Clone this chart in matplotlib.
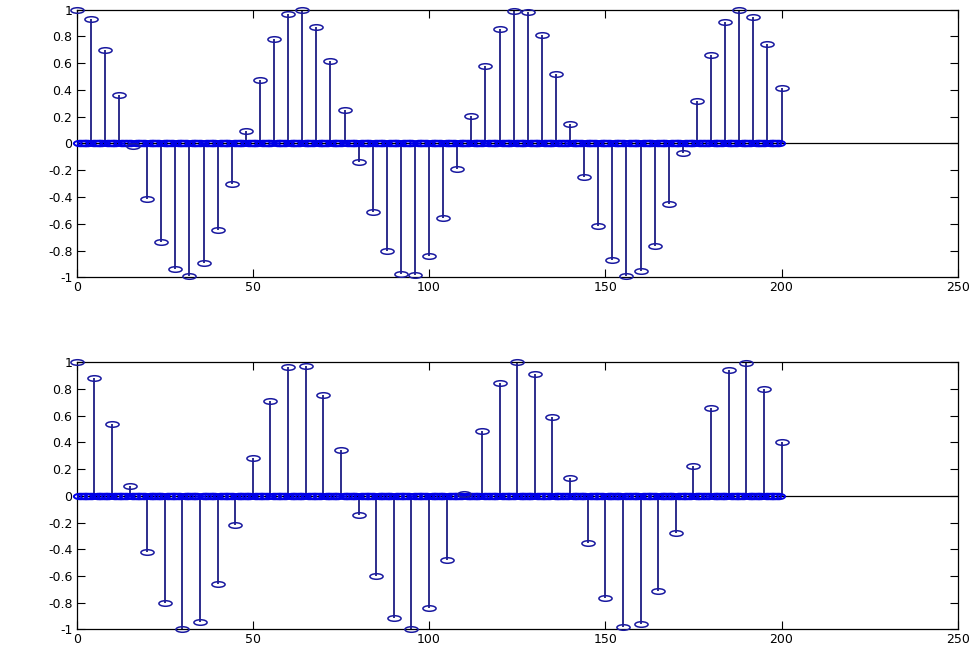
import numpy as np
import matplotlib
matplotlib.use("Agg")
import matplotlib.pyplot as plt
from matplotlib.path import Path
from matplotlib.transforms import Affine2D

plt.rcParams['axes.unicode_minus'] = False
plt.rcParams['font.family'] = ['DejaVu Sans']

# sample positions (every 4th / every 5th of 0..200) and their values
n_total = 201
top_step = 4
top_vals = [1.0, 0.93, 0.70, 0.364, -0.017, -0.416, -0.736, -0.94, -0.99, -0.895,
            -0.648, -0.30, 0.09, 0.476, 0.78, 0.97, 0.998, 0.873, 0.616, 0.252,
            -0.14, -0.514, -0.805, -0.973, -0.98, -0.838, -0.556, -0.19, 0.207, 0.579,
            0.853, 0.993, 0.98, 0.81, 0.519, 0.142, -0.254, -0.613, -0.87, -0.99,
            -0.953, -0.768, -0.454, -0.072, 0.319, 0.663, 0.91, 1.0, 0.945, 0.74,
            0.414]
bot_step = 5
bot_vals = [1.0, 0.883, 0.54, 0.07, -0.423, -0.80, -1.0, -0.948, -0.658, -0.218,
            0.28, 0.71, 0.963, 0.975, 0.753, 0.345, -0.145, -0.60, -0.915, -1.0,
            -0.843, -0.48, 0.01, 0.483, 0.848, 1.0, 0.913, 0.593, 0.135, -0.355,
            -0.763, -0.985, -0.963, -0.71, -0.28, 0.22, 0.66, 0.943, 0.995, 0.80,
            0.405]

x_ticks = [0, 50, 100, 150, 200, 250]
x_labels = ['0', '50', '100', '150', '200', '250']
y_ticks = [1, 0.8, 0.6, 0.4, 0.2, 0, -0.2, -0.4, -0.6, -0.8, -1]
y_labels = ['1', '0.8', '0.6', '0.4', '0.2', '0', '-0.2', '-0.4', '-0.6', '-0.8', '-1']

# squashed circle marker, like the stretched screenshot
ellipse = Path.unit_circle().transformed(Affine2D().scale(1.0, 0.42))

stem_color = '#1c1c84'
mark_color = '#1a1aa0'
zero_color = '#0000e6'


def upsampled(vals, step):
    y = np.zeros(n_total)
    y[::step] = vals
    return y


def draw(ax, vals, step):
    x = np.arange(n_total)
    y = upsampled(vals, step)
    ax.axhline(0, color='black', lw=0.9, zorder=1)
    nz = y != 0
    ax.vlines(x[nz], 0, y[nz], color=stem_color, lw=1.3, zorder=2)
    ax.plot(x[~nz], y[~nz], ls='none', marker=ellipse, ms=9.5,
            mfc='none', mec=zero_color, mew=1.4, zorder=3, clip_on=False)
    ax.plot(x[nz], y[nz], ls='none', marker=ellipse, ms=9.5,
            mfc='none', mec=mark_color, mew=1.1, zorder=3, clip_on=False)
    ax.set_xlim(0, 250)
    ax.set_ylim(-1, 1)
    ax.set_xticks(x_ticks)
    ax.set_xticklabels(x_labels)
    ax.set_yticks(y_ticks)
    ax.set_yticklabels(y_labels)
    ax.tick_params(direction='in', length=6, width=0.8, top=True, right=True,
                   labelsize=9, colors='black', pad=3)
    for s in ax.spines.values():
        s.set_linewidth(0.9)


fig = plt.figure(figsize=(9.79, 6.5), dpi=100)
ax1 = fig.add_axes([0.0783, 0.5734, 0.900, 0.4117])
ax2 = fig.add_axes([0.0783, 0.0318, 0.900, 0.4108])

draw(ax1, top_vals, top_step)
draw(ax2, bot_vals, bot_step)

fig.savefig('out.png', dpi=100)
